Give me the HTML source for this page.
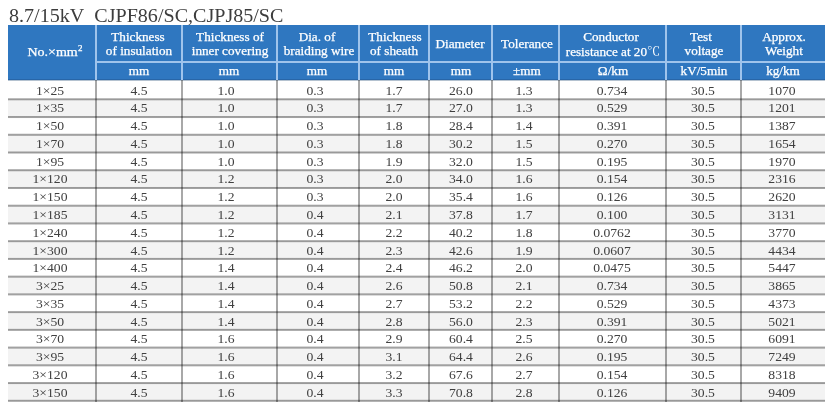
<!DOCTYPE html>
<html><head><meta charset="utf-8"><style>
html,body{margin:0;padding:0;background:#fff;}
body{width:830px;height:404px;position:relative;overflow:hidden;font-family:"Liberation Serif","Noto Serif CJK SC",serif;}
#title{position:absolute;left:9px;top:6.4px;font-size:18px;line-height:21px;color:#3d3d3d;transform:scaleX(1.115);transform-origin:0 0;white-space:nowrap;}
#hb{position:absolute;left:8px;top:25px;width:817px;height:55px;background:#2f77c0;}
.hv{position:absolute;width:2px;background:#9fc4ec;}
.hh{position:absolute;height:2px;background:#9fc4ec;}
.gv{position:absolute;width:2px;background:rgba(0,0,0,0.34);}
.gh{position:absolute;height:3px;}
.st{position:absolute;background:#f3f3f3;}
.h{position:absolute;color:#fff;-webkit-text-stroke:0.25px #fff;font-size:12.5px;line-height:14px;transform:translateX(-50%) scaleX(1.055);white-space:nowrap;}
.d{position:absolute;color:#404040;font-size:12.3px;line-height:1;transform:translateX(-50%) scaleX(1.11);white-space:nowrap;}
</style></head><body>
<div id="title">8.7/15kV&nbsp; CJPF86/SC,CJPJ85/SC</div>
<div id="hb"></div>
<div style="position:absolute;left:8px;top:79px;width:817px;height:1px;background:#2866a8"></div>
<div style="position:absolute;left:8px;top:80px;width:817px;height:1px;background:#b4c2d0"></div>
<div class="st" style="left:8px;top:99px;width:817px;height:18px"></div>
<div class="st" style="left:8px;top:135px;width:817px;height:18px"></div>
<div class="st" style="left:8px;top:170px;width:817px;height:18px"></div>
<div class="st" style="left:8px;top:206px;width:817px;height:17px"></div>
<div class="st" style="left:8px;top:241px;width:817px;height:18px"></div>
<div class="st" style="left:8px;top:277px;width:817px;height:17px"></div>
<div class="st" style="left:8px;top:312px;width:817px;height:18px"></div>
<div class="st" style="left:8px;top:348px;width:817px;height:17px"></div>
<div class="st" style="left:8px;top:383px;width:817px;height:18px"></div>
<div class="hv" style="left:95px;top:25px;height:55px"></div>
<div class="hv" style="left:181px;top:25px;height:55px"></div>
<div class="hv" style="left:276px;top:25px;height:55px"></div>
<div class="hv" style="left:358px;top:25px;height:55px"></div>
<div class="hv" style="left:428px;top:25px;height:55px"></div>
<div class="hv" style="left:491px;top:25px;height:55px"></div>
<div class="hv" style="left:558px;top:25px;height:55px"></div>
<div class="hv" style="left:665px;top:25px;height:55px"></div>
<div class="hv" style="left:740px;top:25px;height:55px"></div>
<div class="hh" style="left:97px;top:61px;width:728px"></div>
<div class="gv" style="left:95px;top:80px;height:322px"></div>
<div class="gv" style="left:181px;top:80px;height:322px"></div>
<div class="gv" style="left:276px;top:80px;height:322px"></div>
<div class="gv" style="left:358px;top:80px;height:322px"></div>
<div class="gv" style="left:428px;top:80px;height:322px"></div>
<div class="gv" style="left:491px;top:80px;height:322px"></div>
<div class="gv" style="left:558px;top:80px;height:322px"></div>
<div class="gv" style="left:665px;top:80px;height:322px"></div>
<div class="gv" style="left:740px;top:80px;height:322px"></div>
<div class="gh" style="left:8px;top:98px;width:817px;background:linear-gradient(rgba(0,0,0,0.259) 0 1px,rgba(0,0,0,0.370) 1px 2px,rgba(0,0,0,0.111) 2px 3px)"></div>
<div class="gh" style="left:8px;top:116px;width:817px;background:linear-gradient(rgba(0,0,0,0.357) 0 1px,rgba(0,0,0,0.370) 1px 2px,rgba(0,0,0,0.013) 2px 3px)"></div>
<div class="gh" style="left:8px;top:133px;width:817px;background:linear-gradient(rgba(0,0,0,0.085) 0 1px,rgba(0,0,0,0.370) 1px 2px,rgba(0,0,0,0.285) 2px 3px)"></div>
<div class="gh" style="left:8px;top:151px;width:817px;background:linear-gradient(rgba(0,0,0,0.183) 0 1px,rgba(0,0,0,0.370) 1px 2px,rgba(0,0,0,0.187) 2px 3px)"></div>
<div class="gh" style="left:8px;top:169px;width:817px;background:linear-gradient(rgba(0,0,0,0.281) 0 1px,rgba(0,0,0,0.370) 1px 2px,rgba(0,0,0,0.089) 2px 3px)"></div>
<div class="gh" style="left:8px;top:186px;width:817px;background:linear-gradient(rgba(0,0,0,0.009) 0 1px,rgba(0,0,0,0.370) 1px 2px,rgba(0,0,0,0.361) 2px 3px)"></div>
<div class="gh" style="left:8px;top:204px;width:817px;background:linear-gradient(rgba(0,0,0,0.107) 0 1px,rgba(0,0,0,0.370) 1px 2px,rgba(0,0,0,0.263) 2px 3px)"></div>
<div class="gh" style="left:8px;top:222px;width:817px;background:linear-gradient(rgba(0,0,0,0.205) 0 1px,rgba(0,0,0,0.370) 1px 2px,rgba(0,0,0,0.165) 2px 3px)"></div>
<div class="gh" style="left:8px;top:240px;width:817px;background:linear-gradient(rgba(0,0,0,0.303) 0 1px,rgba(0,0,0,0.370) 1px 2px,rgba(0,0,0,0.067) 2px 3px)"></div>
<div class="gh" style="left:8px;top:257px;width:817px;background:linear-gradient(rgba(0,0,0,0.031) 0 1px,rgba(0,0,0,0.370) 1px 2px,rgba(0,0,0,0.339) 2px 3px)"></div>
<div class="gh" style="left:8px;top:275px;width:817px;background:linear-gradient(rgba(0,0,0,0.130) 0 1px,rgba(0,0,0,0.370) 1px 2px,rgba(0,0,0,0.240) 2px 3px)"></div>
<div class="gh" style="left:8px;top:293px;width:817px;background:linear-gradient(rgba(0,0,0,0.228) 0 1px,rgba(0,0,0,0.370) 1px 2px,rgba(0,0,0,0.142) 2px 3px)"></div>
<div class="gh" style="left:8px;top:311px;width:817px;background:linear-gradient(rgba(0,0,0,0.326) 0 1px,rgba(0,0,0,0.370) 1px 2px,rgba(0,0,0,0.044) 2px 3px)"></div>
<div class="gh" style="left:8px;top:328px;width:817px;background:linear-gradient(rgba(0,0,0,0.054) 0 1px,rgba(0,0,0,0.370) 1px 2px,rgba(0,0,0,0.316) 2px 3px)"></div>
<div class="gh" style="left:8px;top:346px;width:817px;background:linear-gradient(rgba(0,0,0,0.152) 0 1px,rgba(0,0,0,0.370) 1px 2px,rgba(0,0,0,0.218) 2px 3px)"></div>
<div class="gh" style="left:8px;top:364px;width:817px;background:linear-gradient(rgba(0,0,0,0.250) 0 1px,rgba(0,0,0,0.370) 1px 2px,rgba(0,0,0,0.120) 2px 3px)"></div>
<div class="gh" style="left:8px;top:382px;width:817px;background:linear-gradient(rgba(0,0,0,0.348) 0 1px,rgba(0,0,0,0.370) 1px 2px,rgba(0,0,0,0.022) 2px 3px)"></div>
<div class="gh" style="left:8px;top:399px;width:817px;background:linear-gradient(rgba(0,0,0,0.076) 0 1px,rgba(0,0,0,0.370) 1px 2px,rgba(0,0,0,0.294) 2px 3px)"></div>
<div class="h" style="left:55.00px;top:45.00px;transform:translateX(-50%) scaleX(1.12)">No.×mm<span style="font-size:8px;position:relative;top:-5px;margin-left:0.3px">2</span></div>
<div class="h" style="left:137.90px;top:30.00px">Thickness</div>
<div class="h" style="left:139.20px;top:44.00px">of insulation</div>
<div class="h" style="left:138.70px;top:64.00px">mm</div>
<div class="h" style="left:229.50px;top:30.00px">Thickness of</div>
<div class="h" style="left:230.40px;top:44.00px">inner covering</div>
<div class="h" style="left:228.70px;top:64.00px">mm</div>
<div class="h" style="left:317.40px;top:30.00px">Dia. of</div>
<div class="h" style="left:318.75px;top:44.00px">braiding wire</div>
<div class="h" style="left:317.00px;top:64.00px">mm</div>
<div class="h" style="left:394.90px;top:30.00px">Thickness</div>
<div class="h" style="left:393.70px;top:44.00px">of sheath</div>
<div class="h" style="left:393.50px;top:64.00px">mm</div>
<div class="h" style="left:460.00px;top:37.00px">Diameter</div>
<div class="h" style="left:460.90px;top:64.00px">mm</div>
<div class="h" style="left:526.60px;top:37.00px">Tolerance</div>
<div class="h" style="left:527.30px;top:64.00px">±mm</div>
<div class="h" style="left:611.40px;top:30.00px">Conductor</div>
<div class="h" style="left:612.85px;top:44.00px">resistance at 20<span style="-webkit-text-stroke:0;font-family:'Noto Serif CJK SC',serif">℃</span></div>
<div class="h" style="left:612.80px;top:64.00px">Ω/km</div>
<div class="h" style="left:700.60px;top:30.00px">Test</div>
<div class="h" style="left:703.50px;top:44.00px">voltage</div>
<div class="h" style="left:704.20px;top:64.00px">kV/5min</div>
<div class="h" style="left:784.25px;top:30.00px">Approx.</div>
<div class="h" style="left:784.00px;top:44.00px">Weight</div>
<div class="h" style="left:783.00px;top:64.00px">kg/km</div>
<div class="d" style="left:49.50px;top:84.60px">1×25</div>
<div class="d" style="left:138.70px;top:84.60px">4.5</div>
<div class="d" style="left:226.30px;top:84.60px">1.0</div>
<div class="d" style="left:314.65px;top:84.60px">0.3</div>
<div class="d" style="left:393.70px;top:84.60px">1.7</div>
<div class="d" style="left:461.35px;top:84.60px">26.0</div>
<div class="d" style="left:523.75px;top:84.60px">1.3</div>
<div class="d" style="left:612.15px;top:84.60px">0.734</div>
<div class="d" style="left:702.95px;top:84.60px">30.5</div>
<div class="d" style="left:782.45px;top:84.60px">1070</div>
<div class="d" style="left:49.50px;top:102.37px">1×35</div>
<div class="d" style="left:138.70px;top:102.37px">4.5</div>
<div class="d" style="left:226.30px;top:102.37px">1.0</div>
<div class="d" style="left:314.65px;top:102.37px">0.3</div>
<div class="d" style="left:393.70px;top:102.37px">1.7</div>
<div class="d" style="left:461.35px;top:102.37px">27.0</div>
<div class="d" style="left:523.75px;top:102.37px">1.3</div>
<div class="d" style="left:612.15px;top:102.37px">0.529</div>
<div class="d" style="left:702.95px;top:102.37px">30.5</div>
<div class="d" style="left:782.45px;top:102.37px">1201</div>
<div class="d" style="left:49.50px;top:120.14px">1×50</div>
<div class="d" style="left:138.70px;top:120.14px">4.5</div>
<div class="d" style="left:226.30px;top:120.14px">1.0</div>
<div class="d" style="left:314.65px;top:120.14px">0.3</div>
<div class="d" style="left:393.70px;top:120.14px">1.8</div>
<div class="d" style="left:461.35px;top:120.14px">28.4</div>
<div class="d" style="left:523.75px;top:120.14px">1.4</div>
<div class="d" style="left:612.15px;top:120.14px">0.391</div>
<div class="d" style="left:702.95px;top:120.14px">30.5</div>
<div class="d" style="left:782.45px;top:120.14px">1387</div>
<div class="d" style="left:49.50px;top:137.91px">1×70</div>
<div class="d" style="left:138.70px;top:137.91px">4.5</div>
<div class="d" style="left:226.30px;top:137.91px">1.0</div>
<div class="d" style="left:314.65px;top:137.91px">0.3</div>
<div class="d" style="left:393.70px;top:137.91px">1.8</div>
<div class="d" style="left:461.35px;top:137.91px">30.2</div>
<div class="d" style="left:523.75px;top:137.91px">1.5</div>
<div class="d" style="left:612.15px;top:137.91px">0.270</div>
<div class="d" style="left:702.95px;top:137.91px">30.5</div>
<div class="d" style="left:782.45px;top:137.91px">1654</div>
<div class="d" style="left:49.50px;top:155.68px">1×95</div>
<div class="d" style="left:138.70px;top:155.68px">4.5</div>
<div class="d" style="left:226.30px;top:155.68px">1.0</div>
<div class="d" style="left:314.65px;top:155.68px">0.3</div>
<div class="d" style="left:393.70px;top:155.68px">1.9</div>
<div class="d" style="left:461.35px;top:155.68px">32.0</div>
<div class="d" style="left:523.75px;top:155.68px">1.5</div>
<div class="d" style="left:612.15px;top:155.68px">0.195</div>
<div class="d" style="left:702.95px;top:155.68px">30.5</div>
<div class="d" style="left:782.45px;top:155.68px">1970</div>
<div class="d" style="left:49.50px;top:173.45px">1×120</div>
<div class="d" style="left:138.70px;top:173.45px">4.5</div>
<div class="d" style="left:226.30px;top:173.45px">1.2</div>
<div class="d" style="left:314.65px;top:173.45px">0.3</div>
<div class="d" style="left:393.70px;top:173.45px">2.0</div>
<div class="d" style="left:461.35px;top:173.45px">34.0</div>
<div class="d" style="left:523.75px;top:173.45px">1.6</div>
<div class="d" style="left:612.15px;top:173.45px">0.154</div>
<div class="d" style="left:702.95px;top:173.45px">30.5</div>
<div class="d" style="left:782.45px;top:173.45px">2316</div>
<div class="d" style="left:49.50px;top:191.22px">1×150</div>
<div class="d" style="left:138.70px;top:191.22px">4.5</div>
<div class="d" style="left:226.30px;top:191.22px">1.2</div>
<div class="d" style="left:314.65px;top:191.22px">0.3</div>
<div class="d" style="left:393.70px;top:191.22px">2.0</div>
<div class="d" style="left:461.35px;top:191.22px">35.4</div>
<div class="d" style="left:523.75px;top:191.22px">1.6</div>
<div class="d" style="left:612.15px;top:191.22px">0.126</div>
<div class="d" style="left:702.95px;top:191.22px">30.5</div>
<div class="d" style="left:782.45px;top:191.22px">2620</div>
<div class="d" style="left:49.50px;top:208.99px">1×185</div>
<div class="d" style="left:138.70px;top:208.99px">4.5</div>
<div class="d" style="left:226.30px;top:208.99px">1.2</div>
<div class="d" style="left:314.65px;top:208.99px">0.4</div>
<div class="d" style="left:393.70px;top:208.99px">2.1</div>
<div class="d" style="left:461.35px;top:208.99px">37.8</div>
<div class="d" style="left:523.75px;top:208.99px">1.7</div>
<div class="d" style="left:612.15px;top:208.99px">0.100</div>
<div class="d" style="left:702.95px;top:208.99px">30.5</div>
<div class="d" style="left:782.45px;top:208.99px">3131</div>
<div class="d" style="left:49.50px;top:226.76px">1×240</div>
<div class="d" style="left:138.70px;top:226.76px">4.5</div>
<div class="d" style="left:226.30px;top:226.76px">1.2</div>
<div class="d" style="left:314.65px;top:226.76px">0.4</div>
<div class="d" style="left:393.70px;top:226.76px">2.2</div>
<div class="d" style="left:461.35px;top:226.76px">40.2</div>
<div class="d" style="left:523.75px;top:226.76px">1.8</div>
<div class="d" style="left:612.15px;top:226.76px">0.0762</div>
<div class="d" style="left:702.95px;top:226.76px">30.5</div>
<div class="d" style="left:782.45px;top:226.76px">3770</div>
<div class="d" style="left:49.50px;top:244.53px">1×300</div>
<div class="d" style="left:138.70px;top:244.53px">4.5</div>
<div class="d" style="left:226.30px;top:244.53px">1.2</div>
<div class="d" style="left:314.65px;top:244.53px">0.4</div>
<div class="d" style="left:393.70px;top:244.53px">2.3</div>
<div class="d" style="left:461.35px;top:244.53px">42.6</div>
<div class="d" style="left:523.75px;top:244.53px">1.9</div>
<div class="d" style="left:612.15px;top:244.53px">0.0607</div>
<div class="d" style="left:702.95px;top:244.53px">30.5</div>
<div class="d" style="left:782.45px;top:244.53px">4434</div>
<div class="d" style="left:49.50px;top:262.30px">1×400</div>
<div class="d" style="left:138.70px;top:262.30px">4.5</div>
<div class="d" style="left:226.30px;top:262.30px">1.4</div>
<div class="d" style="left:314.65px;top:262.30px">0.4</div>
<div class="d" style="left:393.70px;top:262.30px">2.4</div>
<div class="d" style="left:461.35px;top:262.30px">46.2</div>
<div class="d" style="left:523.75px;top:262.30px">2.0</div>
<div class="d" style="left:612.15px;top:262.30px">0.0475</div>
<div class="d" style="left:702.95px;top:262.30px">30.5</div>
<div class="d" style="left:782.45px;top:262.30px">5447</div>
<div class="d" style="left:49.50px;top:280.07px">3×25</div>
<div class="d" style="left:138.70px;top:280.07px">4.5</div>
<div class="d" style="left:226.30px;top:280.07px">1.4</div>
<div class="d" style="left:314.65px;top:280.07px">0.4</div>
<div class="d" style="left:393.70px;top:280.07px">2.6</div>
<div class="d" style="left:461.35px;top:280.07px">50.8</div>
<div class="d" style="left:523.75px;top:280.07px">2.1</div>
<div class="d" style="left:612.15px;top:280.07px">0.734</div>
<div class="d" style="left:702.95px;top:280.07px">30.5</div>
<div class="d" style="left:782.45px;top:280.07px">3865</div>
<div class="d" style="left:49.50px;top:297.84px">3×35</div>
<div class="d" style="left:138.70px;top:297.84px">4.5</div>
<div class="d" style="left:226.30px;top:297.84px">1.4</div>
<div class="d" style="left:314.65px;top:297.84px">0.4</div>
<div class="d" style="left:393.70px;top:297.84px">2.7</div>
<div class="d" style="left:461.35px;top:297.84px">53.2</div>
<div class="d" style="left:523.75px;top:297.84px">2.2</div>
<div class="d" style="left:612.15px;top:297.84px">0.529</div>
<div class="d" style="left:702.95px;top:297.84px">30.5</div>
<div class="d" style="left:782.45px;top:297.84px">4373</div>
<div class="d" style="left:49.50px;top:315.61px">3×50</div>
<div class="d" style="left:138.70px;top:315.61px">4.5</div>
<div class="d" style="left:226.30px;top:315.61px">1.4</div>
<div class="d" style="left:314.65px;top:315.61px">0.4</div>
<div class="d" style="left:393.70px;top:315.61px">2.8</div>
<div class="d" style="left:461.35px;top:315.61px">56.0</div>
<div class="d" style="left:523.75px;top:315.61px">2.3</div>
<div class="d" style="left:612.15px;top:315.61px">0.391</div>
<div class="d" style="left:702.95px;top:315.61px">30.5</div>
<div class="d" style="left:782.45px;top:315.61px">5021</div>
<div class="d" style="left:49.50px;top:333.38px">3×70</div>
<div class="d" style="left:138.70px;top:333.38px">4.5</div>
<div class="d" style="left:226.30px;top:333.38px">1.6</div>
<div class="d" style="left:314.65px;top:333.38px">0.4</div>
<div class="d" style="left:393.70px;top:333.38px">2.9</div>
<div class="d" style="left:461.35px;top:333.38px">60.4</div>
<div class="d" style="left:523.75px;top:333.38px">2.5</div>
<div class="d" style="left:612.15px;top:333.38px">0.270</div>
<div class="d" style="left:702.95px;top:333.38px">30.5</div>
<div class="d" style="left:782.45px;top:333.38px">6091</div>
<div class="d" style="left:49.50px;top:351.15px">3×95</div>
<div class="d" style="left:138.70px;top:351.15px">4.5</div>
<div class="d" style="left:226.30px;top:351.15px">1.6</div>
<div class="d" style="left:314.65px;top:351.15px">0.4</div>
<div class="d" style="left:393.70px;top:351.15px">3.1</div>
<div class="d" style="left:461.35px;top:351.15px">64.4</div>
<div class="d" style="left:523.75px;top:351.15px">2.6</div>
<div class="d" style="left:612.15px;top:351.15px">0.195</div>
<div class="d" style="left:702.95px;top:351.15px">30.5</div>
<div class="d" style="left:782.45px;top:351.15px">7249</div>
<div class="d" style="left:49.50px;top:368.92px">3×120</div>
<div class="d" style="left:138.70px;top:368.92px">4.5</div>
<div class="d" style="left:226.30px;top:368.92px">1.6</div>
<div class="d" style="left:314.65px;top:368.92px">0.4</div>
<div class="d" style="left:393.70px;top:368.92px">3.2</div>
<div class="d" style="left:461.35px;top:368.92px">67.6</div>
<div class="d" style="left:523.75px;top:368.92px">2.7</div>
<div class="d" style="left:612.15px;top:368.92px">0.154</div>
<div class="d" style="left:702.95px;top:368.92px">30.5</div>
<div class="d" style="left:782.45px;top:368.92px">8318</div>
<div class="d" style="left:49.50px;top:386.69px">3×150</div>
<div class="d" style="left:138.70px;top:386.69px">4.5</div>
<div class="d" style="left:226.30px;top:386.69px">1.6</div>
<div class="d" style="left:314.65px;top:386.69px">0.4</div>
<div class="d" style="left:393.70px;top:386.69px">3.3</div>
<div class="d" style="left:461.35px;top:386.69px">70.8</div>
<div class="d" style="left:523.75px;top:386.69px">2.8</div>
<div class="d" style="left:612.15px;top:386.69px">0.126</div>
<div class="d" style="left:702.95px;top:386.69px">30.5</div>
<div class="d" style="left:782.45px;top:386.69px">9409</div>
</body></html>
